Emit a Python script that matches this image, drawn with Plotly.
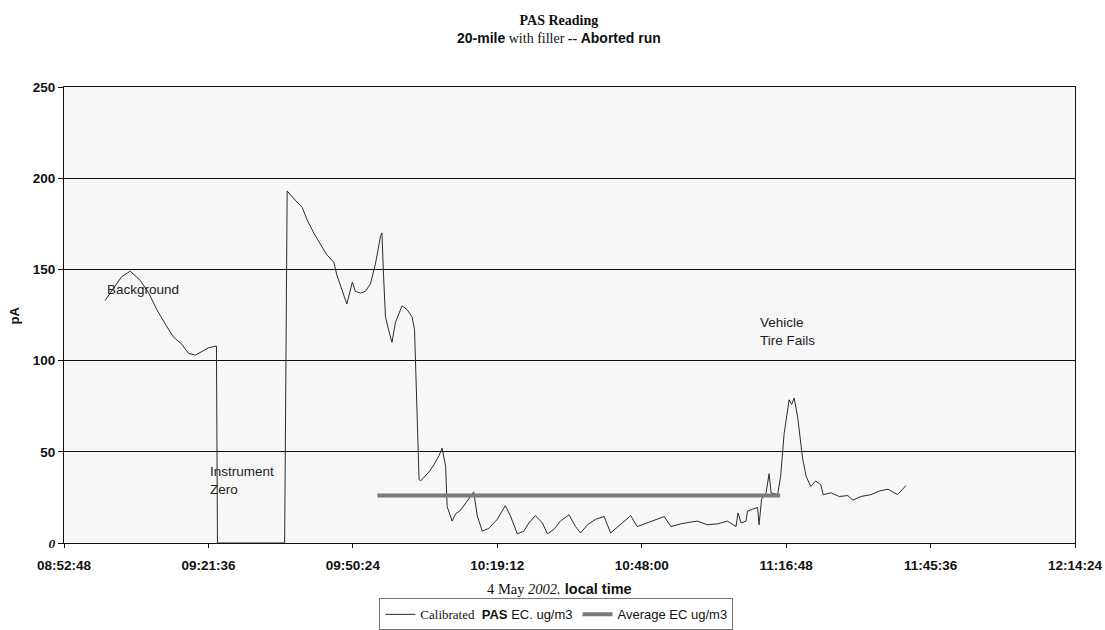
import plotly.graph_objects as go

DAY = "2002-05-04 "

# Calibrated PAS EC reading (clock time, pA)
pas_times = [
    "09:01:00", "09:04:18", "09:06:00", "09:08:00", "09:09:42", "09:11:18", "09:13:00",
    "09:14:36", "09:16:18", "09:17:36", "09:19:00", "09:20:18", "09:21:36", "09:23:12",
    "09:23:24", "09:36:48", "09:37:18", "09:38:54", "09:40:18", "09:41:18", "09:42:36",
    "09:43:54", "09:45:12", "09:46:36", "09:47:12", "09:48:12", "09:49:12", "09:50:18",
    "09:50:54", "09:51:54", "09:52:54", "09:53:54", "09:54:54", "09:55:54", "09:56:12",
    "09:56:30", "09:56:54", "09:57:36", "09:58:12", "09:58:54", "10:00:12", "10:01:12",
    "10:02:12", "10:02:42", "10:03:36", "10:03:54", "10:04:54", "10:05:36", "10:06:36",
    "10:07:36", "10:08:12", "10:08:54", "10:09:12", "10:10:12", "10:10:54", "10:11:54",
    "10:13:12", "10:14:30", "10:15:12", "10:16:12", "10:17:30", "10:19:12", "10:20:48",
    "10:21:48", "10:23:12", "10:24:30", "10:25:30", "10:26:48", "10:28:12", "10:29:12",
    "10:30:30", "10:31:48", "10:33:30", "10:34:48", "10:35:48", "10:37:12", "10:38:48",
    "10:40:30", "10:41:48", "10:43:12", "10:44:30", "10:45:48", "10:47:06", "10:49:06",
    "10:50:48", "10:52:30", "10:53:48", "10:55:48", "10:57:48", "10:59:06", "11:01:06",
    "11:03:06", "11:05:06", "11:06:48", "11:07:12", "11:07:48", "11:08:48", "11:09:06",
    "11:10:06", "11:11:06", "11:11:24", "11:11:54", "11:12:48", "11:13:24", "11:13:48",
    "11:15:06", "11:15:42", "11:16:24", "11:17:24", "11:17:54", "11:18:24", "11:19:06",
    "11:20:06", "11:20:48", "11:21:42", "11:22:42", "11:23:42", "11:24:12", "11:25:42",
    "11:27:24", "11:29:06", "11:30:06", "11:31:42", "11:33:42", "11:35:24", "11:37:06",
    "11:39:00", "11:40:42",
]
pas_values = [
    133, 146, 149, 144, 137, 128, 120,
    113, 109, 104, 103, 105, 107, 108,
    0, 0, 193, 188, 184, 177, 170,
    164, 158, 154, 147, 139, 131, 143,
    138, 137, 138, 142, 153, 168, 170,
    148, 124, 116, 110, 121, 130, 128,
    124, 117, 35, 34, 37, 39, 43,
    48, 52, 42, 20, 12, 16, 18,
    23, 28, 15, 6.5, 8, 13, 20.5,
    15, 5, 6.5, 11, 15, 11, 5,
    7.5, 12, 15.5, 9, 5.5, 10, 13,
    14.5, 5.5, 9, 12, 15, 9, 11,
    13, 14.5, 9, 10.5, 11.5, 12, 10,
    10.5, 12, 9, 16.5, 11, 12, 17.5,
    18.5, 19.5, 10, 24, 27.5, 38, 27.5,
    26.5, 36.5, 60, 78.5, 76, 79.5, 69,
    46, 36.5, 31, 34, 32, 26.5, 27.5,
    25.5, 26, 23.5, 25.5, 26.5, 28.5, 29.5,
    26.5, 31.5,
]

# Average EC over the driving period
avg_times = ["09:55:18", "11:15:36"]
avg_values = [26, 26]

y_ticks = [0, 50, 100, 150, 200, 250]
y_tick_labels = ["<span style='font-family:Liberation Serif'><i>0</i></span>",
                 "50", "100", "150", "200", "250"]

x_start, x_end = "08:52:48", "12:14:24"

SANS = "Liberation Sans, Arial, sans-serif"
SERIF = "Liberation Serif, Times New Roman, serif"
INK = "#111"

fig = go.Figure()
fig.add_trace(go.Scatter(
    x=[DAY + t for t in pas_times], y=pas_values, mode="lines",
    name=("<span style='font-family:Liberation Serif'>Calibrated</span>"
          "  <b>PAS</b> EC. ug/m3"),
    line=dict(color="#2b2b2b", width=1),
))
fig.add_trace(go.Scatter(
    x=[DAY + t for t in avg_times], y=avg_values, mode="lines",
    name="Average EC ug/m3",
    line=dict(color="#7a7a7a", width=4),
))

fig.update_layout(
    width=1105, height=630,
    margin=dict(l=64, r=30, t=87, b=87, autoexpand=False),
    paper_bgcolor="white",
    plot_bgcolor="#f7f7f7",
    font=dict(family=SANS, size=13, color=INK),
    showlegend=True,
    legend=dict(
        orientation="h", x=0.487, xanchor="center", y=-0.1566, yanchor="middle",
        bordercolor="#777", borderwidth=1, bgcolor="white",
        font=dict(family=SANS, size=13, color=INK),
        itemwidth=30,
    ),
    xaxis=dict(
        type="date",
        range=[DAY + x_start, DAY + x_end],
        tick0=DAY + x_start, dtick=1728000,
        tickformat="%H:%M:%S",
        showgrid=False, zeroline=False,
        showline=True, linecolor=INK, linewidth=1, mirror=True,
        ticks="outside", ticklen=4, tickcolor=INK,
        ticklabelstandoff=6,
        tickfont=dict(family=SANS, size=13.5, color=INK, weight="bold"),
    ),
    yaxis=dict(
        range=[0, 250],
        tickvals=y_ticks, ticktext=y_tick_labels,
        showgrid=True, gridcolor=INK, gridwidth=1.2, zeroline=False,
        showline=True, linecolor=INK, linewidth=1, mirror=True,
        ticks="outside", ticklen=5, tickcolor=INK,
        tickfont=dict(family=SANS, size=13.5, color=INK, weight="bold"),
    ),
)

# chart title, two lines
fig.add_annotation(
    xref="paper", yref="paper", x=0.49, y=1.127, xanchor="center", yanchor="middle",
    showarrow=False,
    text=("<b>PAS Reading</b><br>"
          "<span style='font-family:Liberation Sans'><b>20-mile</b></span>"
          " with filler <b>--</b> "
          "<span style='font-family:Liberation Sans'><b>Aborted run</b></span>"),
    font=dict(family=SERIF, size=14, color=INK),
)

annots = [
    dict(x=DAY + "09:01:00", y=139, text="Background", xanchor="left"),
    dict(x=DAY + "09:21:30", y=34, text="Instrument<br>Zero", xanchor="left", align="left"),
    dict(x=DAY + "11:11:06", y=116, text="Vehicle<br>Tire Fails", xanchor="left", align="left"),
]
for a in annots:
    fig.add_annotation(xref="x", yref="y", showarrow=False, yanchor="middle",
                       font=dict(family=SANS, size=13.5, color="#222"), **a)

# axis titles
fig.add_annotation(
    xref="paper", yref="paper", x=0.49, y=-0.100, yanchor="middle", showarrow=False,
    text=("<span style='font-family:Liberation Serif'>4 May <i>2002.</i></span>"
          " <b>local time</b>"),
    font=dict(family=SANS, size=14.5, color=INK),
)
fig.add_annotation(
    xref="paper", yref="paper", x=-0.049, y=0.5, xanchor="center", yanchor="middle",
    showarrow=False, textangle=-90, text="<b>pA</b>",
    font=dict(family=SANS, size=13, color=INK),
)

fig.write_html("out.html")
